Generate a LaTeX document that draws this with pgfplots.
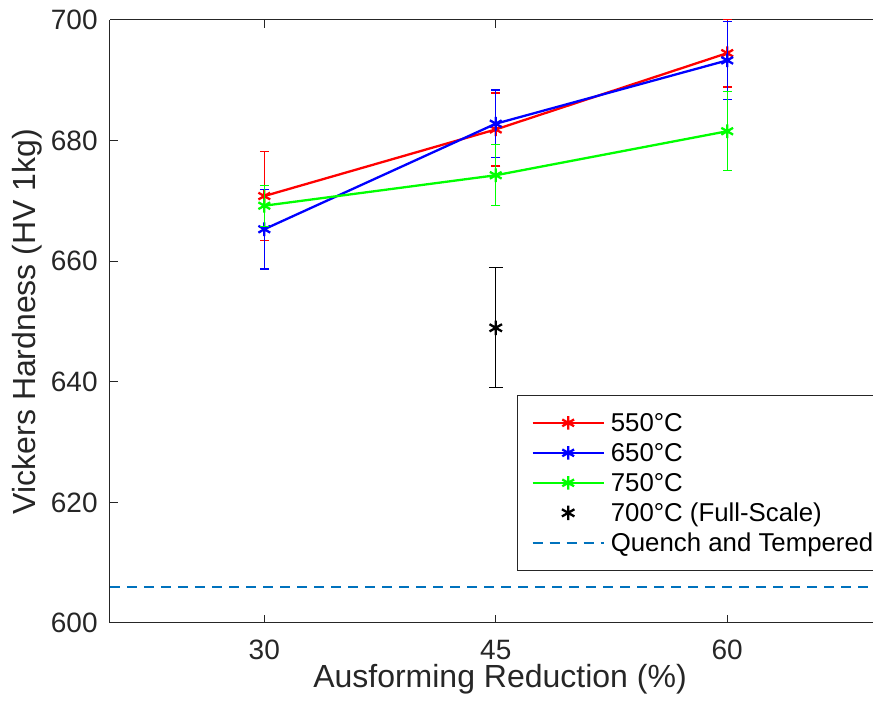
\documentclass[border=0pt]{standalone}
\usepackage{pgfplots}
\pgfplotsset{compat=1.18}
\usepackage{fontspec}
\setmainfont{Liberation Sans}
\definecolor{axgray}{rgb}{0.15,0.15,0.15}
\definecolor{qtblue}{rgb}{0,0.447,0.741}
\definecolor{mred}{rgb}{1,0,0}
\definecolor{mblue}{rgb}{0,0,1}
\definecolor{mgreen}{rgb}{0,1,0}
\begin{document}
\begin{tikzpicture}
\begin{axis}[
  scale only axis, width=381.9pt, height=301.5pt,
  xmin=20, xmax=69.5, ymin=600, ymax=700,
  axis x line*=bottom, axis y line*=left,
  clip mode=individual,
  xtick={30,45,60}, ytick={600,620,640,660,680,700},
  tick align=inside, major tick length=3.8pt,
  tick style={axgray, line width=0.5pt},
  axis line style={axgray, line width=0.5pt, -},
  /pgf/number format/assume math mode=true,
  ticklabel style={font=\fontsize{14}{16}\selectfont, text=axgray},
  xticklabel style={inner sep=0pt, anchor=north, yshift=-8.5pt},
  yticklabel style={inner sep=0pt, anchor=east, xshift=-6pt},
  xlabel={Ausforming Reduction (\%)},
  ylabel={Vickers Hardness (HV 1kg)},
  label style={font=\fontsize{16}{18}\selectfont, text=axgray},
  xlabel style={at={(axis description cs:0.5106,-0.1075)}, anchor=base},
  ylabel style={at={(axis description cs:-0.0969,0.5)}, anchor=base, rotate=0},
  legend style={at={(0.5329,0.378)}, anchor=north west, draw=axgray, line width=0.5pt,
    fill=white, font=\fontsize{12.9}{15}\selectfont, text=black,
    inner xsep=7pt, inner ysep=6.15pt, row sep=0pt, column sep=3pt,
    nodes={inner sep=0pt, text height=11.65pt, text depth=3.35pt}},
  legend cell align=left,
  legend image code/.code={\draw[mark repeat=2,mark phase=2,#1] plot coordinates {(0pt,0pt) (17.75pt,0pt) (35.5pt,0pt)};},
  every axis plot/.append style={line width=1.15pt, mark=asterisk, mark size=3.4pt},
  error bars/error bar style={line width=0.6pt, solid},
  error bars/error mark options={rotate=90, mark size=2.25pt, line width=0.6pt},
]
\draw[axgray, line width=0.5pt] (rel axis cs:0,1) -- (rel axis cs:1,1);
\draw[axgray, line width=0.5pt] (axis cs:30,700) -- ([yshift=-3.8pt]axis cs:30,700);
\draw[axgray, line width=0.5pt] (axis cs:45,700) -- ([yshift=-3.8pt]axis cs:45,700);
\draw[axgray, line width=0.5pt] (axis cs:60,700) -- ([yshift=-3.8pt]axis cs:60,700);
\addplot[mred, mark options={solid, mred}, error bars/.cd, y dir=both, y explicit]
  coordinates {(30,670.8) +- (0,7.35) (45,681.85) +- (0,6.05) (60,694.5) +- (0,5.6)};
\addlegendentry{550°C}
\addplot[mblue, mark options={solid, mblue}, error bars/.cd, y dir=both, y explicit]
  coordinates {(30,665.3) +- (0,6.6) (45,682.8) +- (0,5.6) (60,693.3) +- (0,6.45)};
\addlegendentry{650°C}
\addplot[mgreen, mark options={solid, mgreen}, error bars/.cd, y dir=both, y explicit]
  coordinates {(30,669.2) +- (0,3.4) (45,674.25) +- (0,5.05) (60,681.55) +- (0,6.55)};
\addlegendentry{750°C}
\addplot[black, only marks, mark size=3.6pt, mark options={solid, black}, error bars/.cd, y dir=both, y explicit,
  error mark options={rotate=90, mark size=3.5pt, line width=0.6pt}]
  coordinates {(45,648.95) +- (0,9.95)};
\addlegendentry{700°C (Full-Scale)}
\addplot[qtblue, mark=none, dash pattern=on 5pt off 3.5pt, line width=1pt]
  coordinates {(20,606) (69.5,606)};
\addlegendentry{Quench and Tempered}
\end{axis}
\pgfresetboundingbox
\path[use as bounding box] ([xshift=-55pt,yshift=-43.5pt]current axis.south west) rectangle ([xshift=381.5pt,yshift=10pt]current axis.north west);
\end{tikzpicture}
\end{document}
